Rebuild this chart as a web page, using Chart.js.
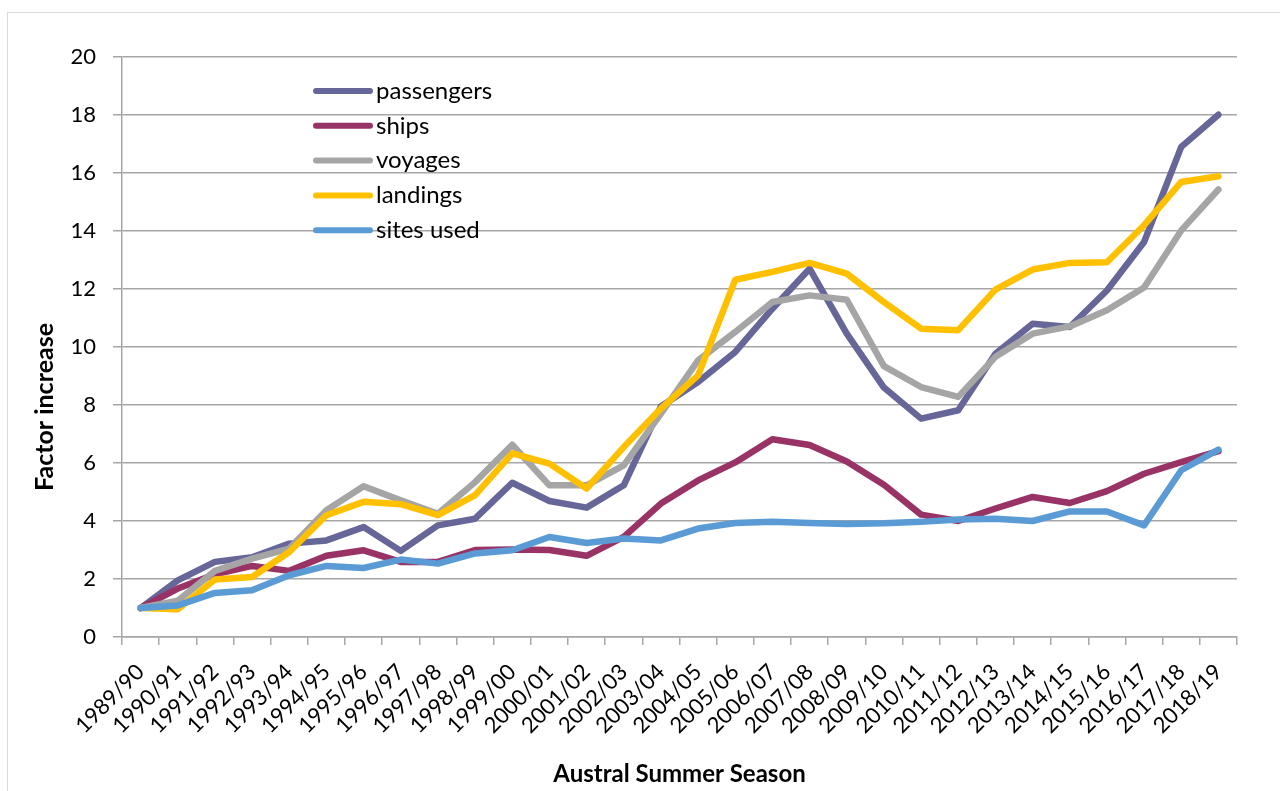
<!DOCTYPE html>
<html>
<head>
<meta charset="utf-8">
<script src="https://cdn.jsdelivr.net/npm/chart.js@4.4.1/dist/chart.umd.min.js"></script>
<style>
  html, body { margin: 0; padding: 0; background: #fff; }
  #wrap { width: 1280px; height: 791px; position: relative; }
</style>
</head>
<body>
<div id="wrap"><canvas id="myChart"></canvas></div>
<script>
// seasons on the x axis
const seasons = ["1989/90", "1990/91", "1991/92", "1992/93", "1993/94", "1994/95", "1995/96", "1996/97", "1997/98", "1998/99", "1999/00", "2000/01", "2001/02", "2002/03", "2003/04", "2004/05", "2005/06", "2006/07", "2007/08", "2008/09", "2009/10", "2010/11", "2011/12", "2012/13", "2013/14", "2014/15", "2015/16", "2016/17", "2017/18", "2018/19"]
const passengers = [1.0, 1.95, 2.59, 2.75, 3.22, 3.33, 3.79, 2.97, 3.85, 4.08, 5.32, 4.69, 4.46, 5.23, 7.95, 8.79, 9.83, 11.32, 12.7, 10.46, 8.6, 7.53, 7.82, 9.77, 10.8, 10.69, 11.95, 13.62, 16.9, 18.01]
const ships = [1.0, 1.67, 2.16, 2.45, 2.28, 2.8, 2.99, 2.59, 2.59, 3.0, 3.02, 3.0, 2.8, 3.45, 4.6, 5.4, 6.02, 6.82, 6.62, 6.05, 5.25, 4.22, 4.0, 4.43, 4.83, 4.62, 5.03, 5.63, 6.03, 6.41]
const voyages = [1.0, 1.25, 2.28, 2.7, 3.05, 4.37, 5.2, 4.71, 4.25, 5.34, 6.63, 5.23, 5.23, 5.92, 7.7, 9.54, 10.52, 11.55, 11.78, 11.63, 9.34, 8.62, 8.28, 9.66, 10.46, 10.71, 11.27, 12.05, 14.02, 15.43]
const landings = [1.0, 0.96, 1.98, 2.07, 2.93, 4.2, 4.66, 4.58, 4.2, 4.89, 6.33, 5.98, 5.12, 6.55, 7.88, 9.02, 12.32, 12.59, 12.9, 12.53, 11.55, 10.63, 10.58, 11.98, 12.67, 12.9, 12.92, 14.2, 15.69, 15.89]
const sitesUsed = [1.0, 1.09, 1.52, 1.61, 2.13, 2.45, 2.38, 2.67, 2.53, 2.88, 2.99, 3.45, 3.24, 3.4, 3.33, 3.74, 3.93, 3.97, 3.93, 3.9, 3.92, 3.97, 4.05, 4.08, 4.0, 4.33, 4.33, 3.85, 5.75, 6.46]
const yTicks = [0, 2, 4, 6, 8, 10, 12, 14, 16, 18, 20]

const fontFam = "Lato, 'Open Sans', sans-serif";
const gridGrey = "#a6a6a6";

// excel-ish legend sitting inside the plot, no box
const innerLegend = {
    id: 'innerLegend',
    afterDatasetsDraw(chart) {
        const ctx = chart.ctx;
        const sets = chart.data.datasets;
        ctx.save();
        ctx.font = "24px " + fontFam;
        ctx.textBaseline = 'middle';
        ctx.fillStyle = '#000';
        sets.forEach((ds, i) => {
            const y = 91 + i * 34.8;
            ctx.strokeStyle = ds.borderColor;
            ctx.lineWidth = 6;
            ctx.lineCap = 'round';
            ctx.beginPath();
            ctx.moveTo(316, y);
            ctx.lineTo(370, y);
            ctx.stroke();
            ctx.fillText(ds.label, 376, y);
        });
        ctx.restore();
    }
};

// outer frame + y title (excel puts it a bit below centre)
const frame = {
    id: 'frame',
    beforeDraw(chart) {
        const ctx = chart.ctx;
        ctx.save();
        ctx.strokeStyle = '#d9d9d9';
        ctx.lineWidth = 1;
        ctx.strokeRect(7.5, 12.5, 1400, 900);
        ctx.restore();
    },
    afterDraw(chart) {
        const ctx = chart.ctx;
        ctx.save();
        ctx.translate(45, 407);
        ctx.rotate(-Math.PI / 2);
        ctx.font = "bold 25px " + fontFam;
        ctx.textAlign = 'center';
        ctx.textBaseline = 'middle';
        ctx.fillStyle = '#000';
        ctx.fillText('Factor increase', 0, 0);
        ctx.restore();
    }
};

const mkSet = (label, data, color, order) => ({
    label: label,
    data: data,
    borderColor: color,
    backgroundColor: color,
    borderWidth: 6.5,
    pointRadius: 0,
    tension: 0,
    borderCapStyle: 'round',
    borderJoinStyle: 'round',
    order: order
});

const ctx = document.getElementById('myChart');
new Chart(ctx, {
    type: 'line',
    data: {
        labels: seasons,
        datasets: [
            mkSet('passengers', passengers, '#666699', 5),
            mkSet('ships', ships, '#993366', 4),
            mkSet('voyages', voyages, '#a5a5a5', 3),
            mkSet('landings', landings, '#ffc000', 2),
            mkSet('sites used', sitesUsed, '#5b9bd5', 1),
        ]
    },
    options: {
        responsive: true,
        maintainAspectRatio: false,
        animation: false,
        layout: {
            padding: { top: 57, right: 43, left: 0, bottom: 0 }
        },
        plugins: {
            legend: { display: false },
            tooltip: { enabled: false }
        },
        scales: {
            x: {
                type: 'category',
                offset: true,
                afterFit: s => { s.height = 154; },
                grid: {
                    offset: true,
                    drawOnChartArea: false,
                    drawTicks: true,
                    tickLength: 8,
                    color: gridGrey,
                    lineWidth: 1.5
                },
                border: { color: gridGrey, width: 1.5 },
                ticks: {
                    minRotation: 45,
                    maxRotation: 45,
                    autoSkip: false,
                    padding: 14,
                    color: '#000',
                    font: { family: fontFam, size: 22 }
                },
                title: {
                    display: true,
                    text: 'Austral Summer Season',
                    color: '#000',
                    font: { family: fontFam, size: 24, weight: 'bold' },
                    padding: { bottom: 2 }
                }
            },
            y: {
                min: 0,
                max: 20,
                afterFit: s => { s.width = 122; },
                afterBuildTicks: s => { s.ticks = yTicks.map(v => ({ value: v })); },
                grid: {
                    color: gridGrey,
                    lineWidth: 1.5,
                    tickLength: 9
                },
                border: { color: gridGrey, width: 1.5 },
                ticks: {
                    padding: 17,
                    color: '#000',
                    font: { family: fontFam, size: 22 }
                }
            }
        }
    },
    plugins: [frame, innerLegend]
});
</script>
</body>
</html>
